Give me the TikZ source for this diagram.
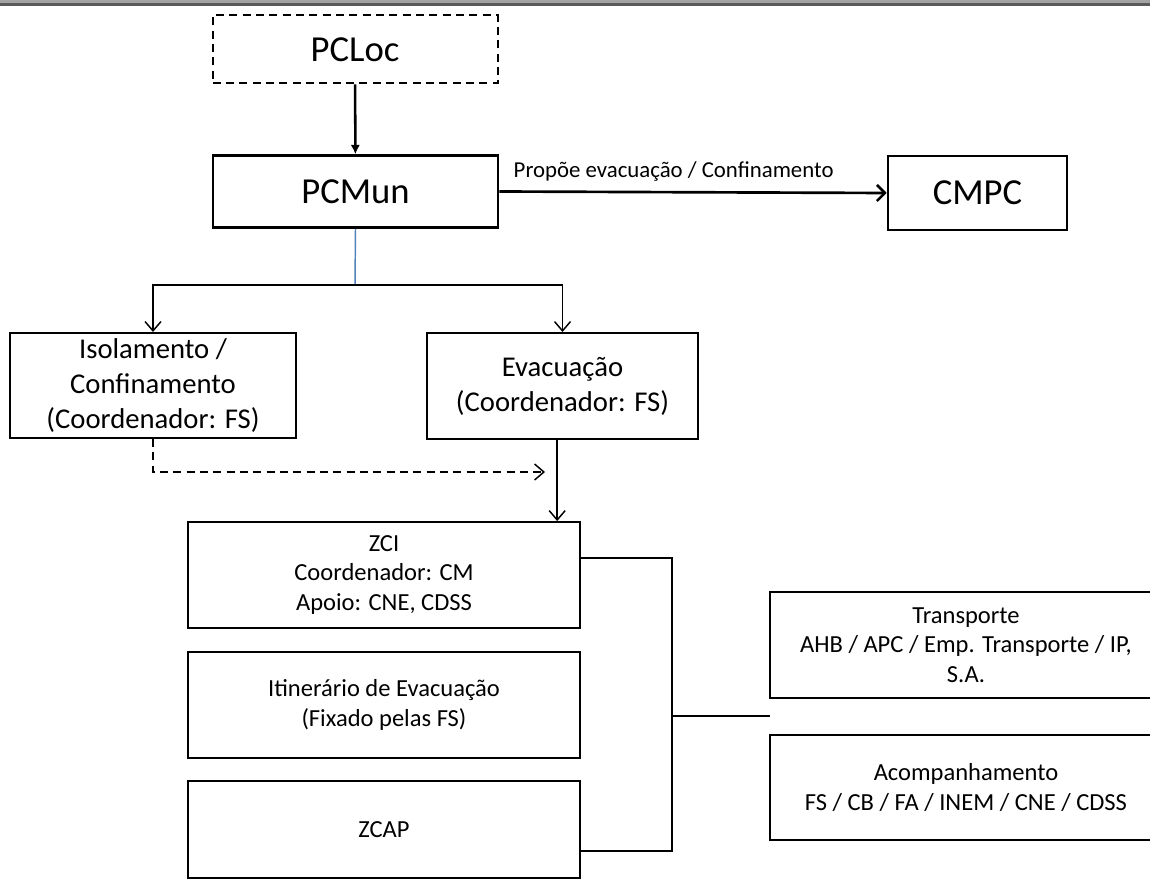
\documentclass[tikz,border=0pt]{standalone}
\usepackage{fontspec}
\setmainfont{Carlito}
\usetikzlibrary{arrows.meta,positioning,calc}
\definecolor{barlight}{RGB}{163,163,163}
\definecolor{bardark}{RGB}{90,90,90}
\definecolor{linkblue}{RGB}{79,129,189}
\tikzset{
  bigbox/.style={draw=black,line width=1.9pt,align=center,inner sep=0pt,font=\fontsize{27.5}{33}\selectfont},
  midbox/.style={draw=black,line width=1.5pt,align=center,inner sep=0pt,font=\fontsize{21.5}{26.2}\selectfont},
  lowbox/.style={draw=black,line width=1.4pt,align=center,inner sep=0pt,font=\fontsize{18.4}{22.2}\selectfont},
  mainflow/.style={-{Latex[length=7pt,width=7pt]},line width=1.9pt},
  sideflow/.style={-{Straight Barb[length=6pt,width=12pt,line width=1.9pt]},line width=2pt},
  treeflow/.style={-{Straight Barb[length=7pt,width=12pt]},line width=1.1pt},
  dashflow/.style={-{Straight Barb[length=7pt,width=12pt]},line width=1.1pt,dash pattern=on 6pt off 4pt},
  treeline/.style={line width=1.1pt},
  blueline/.style={line width=1.1pt,draw=linkblue},
  lab/.style={font=\fontsize{17.1}{20}\selectfont}
}

\begin{document}
\begin{tikzpicture}[x=0.75pt,y=-0.75pt]
  \useasboundingbox (0,0) rectangle (1150,880);
  % window bar
  \fill[barlight] (0,0) rectangle (1150,3.5);
  \fill[bardark] (0,3.5) rectangle (1150,6);

  % command posts
  \node[bigbox,line width=1.5pt,dash pattern=on 6pt off 4pt,minimum width=213.75pt,minimum height=51pt] (pcloc) at (355,49.5) {PCLoc};
  \node[bigbox,minimum width=213.75pt,minimum height=54pt] (pcmun) at (355.5,191.5) {PCMun};
  \node[bigbox,minimum width=134.25pt,minimum height=55.5pt] (cmpc) at (977.5,193) {CMPC};
  \draw[mainflow] (pcloc) -- (pcmun);
  \draw[sideflow] (pcmun.east) -- (cmpc.west) node[pos=0.45,above=4pt,lab]{Propõe evacuação / Confinamento};

  % branches
  \node[midbox,minimum width=214.5pt,minimum height=78.75pt] (iso) at (153,385.5) {Isolamento /\\ Confinamento\\ (Coordenador: FS)};
  \node[midbox,minimum width=203.25pt,minimum height=79.5pt] (evac) at (562.5,386) {Evacuação\\ (Coordenador: FS)};
  \coordinate (split) at (355,285);
  \draw[blueline] (pcmun.south) -- (split);
  \draw[treeflow] (split) -| (iso.north);
  \draw[treeflow] (split) -| (evac.north);

  % evacuation detail
  \node[lowbox,minimum width=294pt,minimum height=79.5pt] (zci) at (384,575) {ZCI\\ Coordenador: CM\\ Apoio: CNE, CDSS};
  \node[lowbox,minimum width=294pt,minimum height=79.5pt] (itin) at (384,705) {Itinerário de Evacuação\\ (Fixado pelas FS)};
  \node[lowbox,minimum width=294pt,minimum height=72.75pt] (zcap) at (384,829.5) {ZCAP};
  \coordinate (dashend) at (545,472);
  \draw[dashflow] (iso.south) |- (dashend);
  \draw[treeflow] ([xshift=-4pt]evac.south) -- ([xshift=-4pt]evac.south |- zci.north);

  % support
  \node[lowbox,minimum width=294pt,minimum height=79.5pt] (transp) at (966,645) {Transporte\\ AHB / APC / Emp. Transporte / IP,\\ S.A.};
  \node[lowbox,minimum width=294pt,minimum height=78.75pt] (acomp) at (966,787.5) {Acompanhamento\\ FS / CB / FA / INEM / CNE / CDSS};
  \coordinate (busA) at (672,558);
  \coordinate (busB) at (672,851);
  \coordinate (bus) at (672,716);
  \coordinate (busend) at (770,716);
  \draw[treeline] (zci.east |- busA) -- (busA) -- (busB) -- (zcap.east |- busB);
  \draw[treeline] (bus) -- (busend);
\end{tikzpicture}
\end{document}
